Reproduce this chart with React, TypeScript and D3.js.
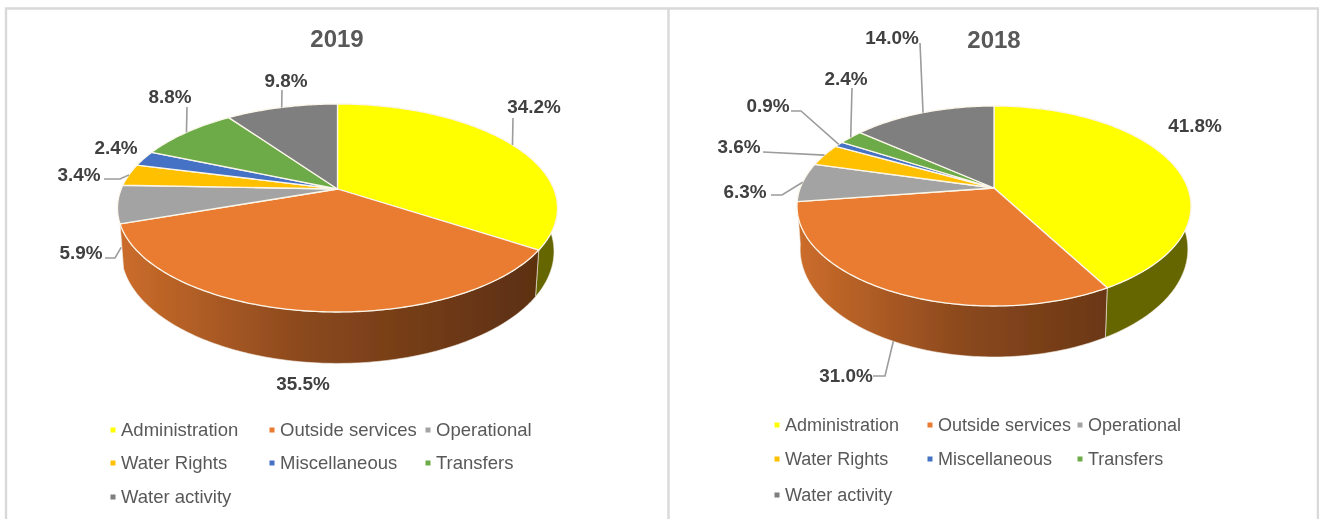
import React from "react";
import * as d3 from "d3";

const categories = ["Administration", "Outside services", "Operational", "Water Rights", "Miscellaneous", "Transfers", "Water activity"];
const values2019 = [34.2, 35.5, 5.9, 3.4, 2.4, 8.8, 9.8];
const values2018 = [41.8, 31.0, 6.3, 3.6, 0.9, 2.4, 14.0];
const colors = ["#FFFF00", "#EA7B30", "#A3A3A3", "#FFC000", "#4472C4", "#6CAB46", "#7F7F7F"];
// only the first two slices ever show their wall
const sideColors = ["#666600", "url(#G)", null, null, null, null, null];

type Leader = { via: [number, number][]; base?: boolean } | null;
type Layout = {
  id: string; title: string; titleX: number; titleY: number;
  cx: number; cy: number; rx: number; up: number; down: number; depth: number;
  labels: [number, number][]; leaders: Leader[];
  legendCols: number[]; legendRows: number[]; legendSize: number;
};

const layout2019: Layout = {
  id: "a", title: "2019", titleX: 337, titleY: 47,
  cx: 337.5, cy: 189, rx: 220, up: 85, down: 123, depth: 42,
  labels: [[534, 113], [303, 390], [81, 259], [79, 181], [116, 154], [170, 103], [286, 87]],
  leaders: [
    { via: [[513, 118]] },
    null,
    { via: [[105, 258], [115, 258]], base: true },
    { via: [[104, 179], [120, 179]] },
    null,
    { via: [[187, 107]] },
    { via: [[282, 90]] },
  ],
  legendCols: [113, 272, 428], legendRows: [430, 463, 497], legendSize: 18.5,
};

const layout2018: Layout = {
  id: "b", title: "2018", titleX: 994, titleY: 48,
  cx: 994, cy: 188, rx: 197, up: 82, down: 118, depth: 41.8,
  labels: [[1195, 132], [846, 382], [745, 198], [739, 153], [768, 112], [846, 85], [892, 44]],
  leaders: [
    null,
    { via: [[873, 376], [885, 376]], base: true },
    { via: [[771, 195], [782, 195]] },
    { via: [[763, 152]] },
    { via: [[791, 111], [801, 111]] },
    { via: [[852, 88]] },
    { via: [[920, 43]] },
  ],
  legendCols: [777, 930, 1080], legendRows: [425, 459, 495], legendSize: 18,
};

const fontFamily = "'Liberation Sans', Arial, sans-serif";
const pct = (v: number) => `${v.toFixed(1)}%`;

function Pie3D({ values, cfg }: { values: number[]; cfg: Layout }) {
  // perspective projection of the pie disc, worked out from the top and bottom reach
  const ratio = cfg.down / cfg.up;
  const k = (ratio - 1) / (ratio + 1);
  const b = cfg.down * (1 - k);
  const a = cfg.rx * Math.sqrt(1 - k * k);

  const project = (theta: number, onBase = false): [number, number] => {
    const X = Math.sin(theta);
    const Y = -Math.cos(theta);
    const w = 1 - k * Y;
    const s = onBase ? 0.984 : 1;
    return [cfg.cx + (a * s * X) / w, cfg.cy + (b * Y) / w + (onBase ? cfg.depth / w : 0)];
  };

  const arcs = d3.pie<number>().sort(null)(values);
  const line = d3.line();
  const sample = (s: number, e: number) => {
    const n = Math.max(2, Math.ceil((e - s) / 0.015));
    return d3.range(n + 1).map((i) => s + ((e - s) * i) / n);
  };

  const grad = d3.scaleLinear<string>()
    .domain([0, 0.45, 1])
    .range(["#cc6d2b", "#8a481d", "#5c3011"]);

  return (
    <g>
      <defs>
        <linearGradient id={cfg.id + "G"} gradientUnits="userSpaceOnUse" x1={cfg.cx - cfg.rx} x2={cfg.cx + cfg.rx * 0.9} y1={0} y2={0}>
          {[0, 0.45, 1].map((t) => <stop key={t} offset={t} stopColor={grad(t)} />)}
        </linearGradient>
      </defs>
      <text x={cfg.titleX} y={cfg.titleY} textAnchor="middle" fontFamily={fontFamily} fontWeight="bold" fontSize={24} fill="#595959">{cfg.title}</text>

      {arcs.map((d, i) => {
        if (!sideColors[i]) return null;
        const pts = sample(d.startAngle, d.endAngle);
        const poly = [...pts.map((t) => project(t)), ...pts.slice().reverse().map((t) => project(t, true))];
        const fill = sideColors[i] === "url(#G)" ? `url(#${cfg.id}G)` : sideColors[i]!;
        return <path key={i} d={line(poly) + "Z"} fill={fill} stroke="#f4efe6" strokeWidth={0.6} />;
      })}
      {arcs.map((d, i) => {
        const rim = sample(d.startAngle, d.endAngle).map((t) => project(t));
        return <path key={i} d={line([[cfg.cx, cfg.cy], ...rim]) + "Z"} fill={colors[i]} stroke="#fbf6ea" strokeWidth={1.3} strokeLinejoin="round" />;
      })}

      {arcs.map((d, i) => {
        const l = cfg.leaders[i];
        if (!l) return null;
        const end = project((d.startAngle + d.endAngle) / 2, l.base);
        return <path key={i} d={line([...l.via, end]) ?? ""} fill="none" stroke="#9c9c9c" strokeWidth={1.6} />;
      })}
      {values.map((v, i) => (
        <text key={i} x={cfg.labels[i][0]} y={cfg.labels[i][1]} textAnchor="middle" fontFamily={fontFamily} fontWeight="bold" fontSize={18.9} fill="#404040">{pct(v)}</text>
      ))}

      {categories.map((c, i) => {
        const x = cfg.legendCols[i % 3];
        const y = cfg.legendRows[Math.floor(i / 3)];
        return (
          <g key={c}>
            <rect x={x - 2.5} y={y - 2.5} width={5} height={5} fill={colors[i]} />
            <text x={x + 8} y={y + 6} fontFamily={fontFamily} fontSize={cfg.legendSize} fill="#595959">{c}</text>
          </g>
        );
      })}
    </g>
  );
}

export default function App() {
  return (
    <svg width={1319} height={519} style={{ position: "absolute", left: 0, top: 0, display: "block", background: "#fff" }}>
      <defs>
        {/* the source is a soft scan, this takes the hard edge off */}
        <filter id="soft" x="0" y="0" width="100%" height="100%">
          <feGaussianBlur stdDeviation={0.4} />
        </filter>
      </defs>
      <g filter="url(#soft)">
        <rect width={1319} height={519} fill="#fff" />
        <path d="M6,519V8.500H668.500M668.500,8V519M668.500,8.500H1318V519" fill="none" stroke="#d9d9d9" strokeWidth={2.4} />
        <Pie3D values={values2019} cfg={layout2019} />
        <Pie3D values={values2018} cfg={layout2018} />
      </g>
    </svg>
  );
}
